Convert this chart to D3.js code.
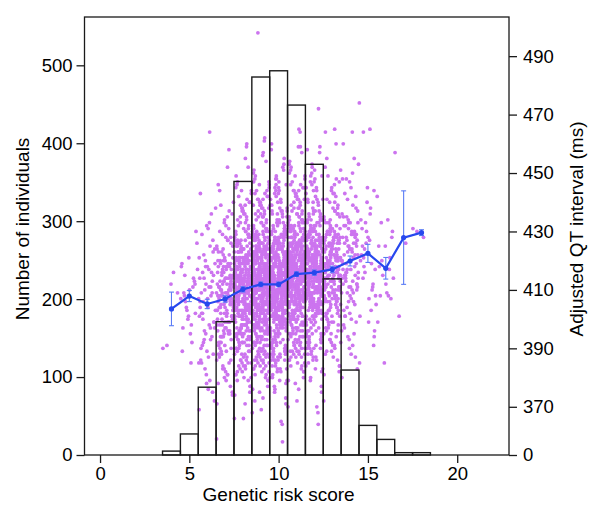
<!DOCTYPE html>
<html>
<head>
<meta charset="utf-8">
<script src="https://cdn.jsdelivr.net/npm/d3@7/dist/d3.min.js"></script>
<style>
  body { margin: 0; background: #fff; }
  svg text { font-family: "Liberation Sans", Arial, Helvetica, sans-serif; }
</style>
</head>
<body>
<svg id="chart" width="600" height="513"></svg>
<script>
// histogram: number of individuals per genetic risk score
var scores = [4, 5, 6, 7, 8, 9, 10, 11, 12, 13, 14, 15, 16, 17, 18];
var counts = [5, 27, 87, 171, 351, 485, 493, 449, 373, 226, 109, 38, 20, 3, 3];

// mean adjusted QT (ms) per score and half-width of its error bar
var qtMeans = [403.5, 407.9, 405.2, 406.9, 410.2, 411.9, 411.9, 415.4, 415.9, 417.0, 419.9, 422.5, 417.4, 427.9, 429.6];
var qtErr = [5.75, 1.9, 1.6, 1.1, 0.9, 0.8, 0.8, 0.8, 0.9, 1.1, 1.7, 3.1, 3.7, 16, 1.0];

// axis ticks
var xTicks = [0, 5, 10, 15, 20];
var countTicks = [0, 100, 200, 300, 400, 500];
var qtTicks = [370, 390, 410, 430, 450, 470, 490];

// individual adjusted QT values (ms) per score
var qt4 = [390, 416, 391, 409, 412];
var qt5 = [407,398,415,402,421,389,411,404,426,395,409,413,400,418,392,406,430,410,397,414,403,417,385,408,412,401,419];
var qt6 = [407,398,416,388,432,404,411,393,424,376, 402,413,395,421,379,406,399,418,386,436,
  410,403,417,391,427,381,414,397,422,372, 404,409,394,420,385,433,400,415,389,443,
  408,396,419,387,429,375,412,401,425,392, 399,407,390,416,383,438,411,402,423,378,
  406,393,414,397,431,385,409,418,369,464];
var qt7 = [409,399,419,390,434,406,414,394,425,379, 404,415,396,424,381,408,401,420,388,437,
  412,405,418,392,428,383,416,399,423,375, 406,411,395,422,386,435,402,417,391,446,
  410,398,421,389,430,377,413,403,427,394, 401,409,392,418,384,440,412,404,426,380,
  408,395,416,400,432,387,411,420,371,452, 405,414,397,423,385,429,403,418,390,410,
  413,400,419,388,436,382,407,396,424,359, 402,410,393,421,378,431,409,401,417,444,
  406,416,398,427,389,405,414,391,422,383, 411,403,420,386,433,396,408,415,374,428,
  404,412,394,425,381,439,407,399,418,458,
  408,403,414,398,419,405,412,396,410,401, 406,411,399,416,404,409,394,413,402,420,
  407,400,415,397,411,405,418,403,409,392, 412,404,408,399,417,406,401,413,410,395];
var qt8 = [412,402,423,391,438,409,417,396,428,380, 407,419,398,427,383,411,404,424,390,441,
  415,408,421,393,432,385,420,401,426,377, 409,414,397,425,388,439,405,420,394,449,
  413,401,424,392,434,379,416,406,430,396, 404,412,395,421,386,444,415,407,429,382,
  411,398,419,403,436,389,414,423,374,455, 408,417,400,426,387,433,406,421,393,413,
  416,403,422,391,440,384,410,399,427,366, 405,413,396,424,381,435,412,404,420,447,
  409,419,401,430,392,408,417,394,425,386, 414,406,423,389,437,399,411,418,377,431,
  407,415,397,428,384,442,410,402,421,460, 412,404,420,395,431,388,416,400,426,375,
  410,418,399,424,385,436,407,422,392,445, 403,411,394,419,382,429,414,405,433,390,
  415,400,425,393,439,380,409,417,428,398, 408,416,396,422,387,446,412,403,419,371,
  413,405,421,390,434,383,418,410,427,452, 406,414,398,426,389,437,404,420,395,443,
  411,402,423,392,430,386,415,408,424,379, 409,417,400,427,384,440,406,413,391,435,
  414,403,420,394,438,381,410,419,426,366, 407,412,397,423,388,432,416,401,429,459,
  410,418,395,425,385,444,412,404,421,393,
  411,406,417,401,422,408,415,399,413,404, 409,414,402,419,407,412,397,416,405,423,
  410,403,418,400,414,408,421,406,412,395, 415,407,411,402,420,409,404,416,413,398,
  408,412,400,417,405,411,396,414,403,422, 410,406,419,401,413,407,418,404,409,399,
  414,408,403,416,411,405,420,402,412,397, 409,413,401,418,406,410,395,415,404,421,
  411,405,417,400,414,408,419,403,412,398, 410,407,415,402,413,406,420,401,409,396];
var qt9 = [414,404,425,393,440,411,419,398,430,382, 409,421,400,429,385,413,406,426,392,443,
  417,410,423,395,434,387,422,403,428,379, 411,416,399,427,390,441,407,422,396,451,
  415,403,426,394,436,381,418,408,432,398, 406,414,397,423,388,446,417,409,431,384,
  413,400,421,405,438,391,416,425,376,457, 410,419,402,428,389,435,408,423,395,415,
  418,405,424,393,442,386,412,401,429,368, 407,415,398,426,383,437,414,406,422,449,
  411,421,403,432,394,410,419,396,427,388, 416,408,425,391,439,401,413,420,379,433,
  409,417,399,430,386,444,412,404,423,462, 414,406,422,397,433,390,418,402,428,377,
  412,420,401,426,387,438,409,424,394,447, 405,413,396,421,384,431,416,407,435,392,
  417,402,427,395,441,382,411,419,430,400, 410,418,398,424,389,448,414,405,421,373,
  415,407,423,392,436,385,420,412,429,454, 408,416,400,428,391,439,406,422,397,445,
  413,404,425,394,432,388,417,410,426,381, 411,419,402,429,386,442,408,415,393,437,
  416,405,422,396,440,383,412,421,428,369, 409,414,399,425,390,434,418,403,431,461,
  412,420,397,427,387,446,414,406,423,395, 407,417,401,424,385,435,410,419,392,450,
  414,403,426,393,443,380,415,408,430,399, 410,421,398,428,389,438,412,405,424,375,
  418,406,423,395,433,386,409,416,427,456, 405,413,400,422,391,441,417,402,429,384,
  412,419,396,430,388,436,407,424,394,447, 416,404,425,397,439,383,413,410,421,372,
  409,417,402,426,387,444,411,420,398,498,
  413,408,419,403,424,410,417,401,415,406, 411,416,404,421,409,414,399,418,407,425,
  412,405,420,402,416,410,423,408,414,397, 417,409,413,404,422,411,406,418,415,400,
  410,414,402,419,407,413,398,416,405,424, 412,408,421,403,415,409,420,406,411,401,
  416,410,405,418,413,407,422,404,414,399, 411,415,403,420,408,412,397,417,406,423,
  413,407,419,402,416,410,421,405,414,400, 412,409,417,404,415,408,422,403,411,398,
  414,410,406,419,412,405,424,401,416,407, 409,413,400,418,411,415,402,420,408,414,
  413,406,421,404,417,410,399,415,412,405, 410,416,403,422,409,413,407,419,402,411,
  415,408,418,405,414,411,423,400,412,406];
var qt10 = [405,419,396,431,412,388,424,401,446,379, 416,408,427,391,437,410,399,421,384,452,
  403,414,392,425,418,440,386,409,430,371, 420,407,433,397,411,382,426,402,443,415,
  409,422,398,428,389,413,436,404,419,376, 417,401,425,393,448,406,414,386,431,410,
  404,418,395,430,412,387,423,400,441,365, 413,406,428,392,435,409,419,383,426,455,
  408,421,399,427,390,444,411,403,418,380, 415,402,432,396,424,410,385,420,438,407,
  411,424,394,429,405,391,417,436,399,449, 406,414,388,422,433,408,401,427,378,419,
  418,403,426,395,440,412,389,416,430,358, 402,417,397,431,409,383,423,405,445,414,
  412,408,429,391,437,416,400,421,386,460, 409,420,396,426,392,413,434,404,418,375,
  416,405,424,398,442,410,387,419,428,401, 403,413,393,430,411,381,425,407,439,417,
  414,409,427,390,436,404,420,398,424,453, 407,418,399,428,388,447,412,402,421,379,
  419,404,431,394,415,410,384,423,433,406, 410,422,397,425,401,389,416,437,400,446,
  405,412,390,421,432,408,398,428,373,418, 417,402,426,396,441,413,386,414,429,364,
  401,416,395,432,410,382,424,406,443,411, 413,407,428,392,435,417,399,420,387,458,
  408,419,398,426,393,412,433,403,419,377, 415,404,423,397,444,409,388,418,427,400,
  404,414,394,429,410,380,426,408,438,415, 412,410,425,391,437,403,421,399,423,451,
  406,417,400,427,389,445,411,401,420,383, 418,405,430,395,416,409,386,422,434,407,
  409,421,396,424,402,390,415,439,398,448,
  411,415,405,420,409,413,400,418,407,424, 414,410,403,419,412,406,422,401,416,408,
  409,413,404,421,411,407,417,399,415,410, 412,416,406,423,408,414,402,418,410,405,
  415,409,420,403,413,411,398,417,406,422, 410,414,401,419,408,412,405,421,411,404,
  416,407,413,400,418,410,423,406,414,409, 411,415,403,420,407,412,397,417,409,405,
  413,408,419,402,415,410,424,404,412,406, 409,414,400,418,411,407,421,403,416,410,
  412,406,417,405,414,409,422,401,413,408, 415,411,404,420,410,413,399,418,407,412,
  408,416,402,423,411,406,419,404,414,409, 413,410,405,417,412,408,421,400,415,411,
  410,414,403,419,409,413,406,422,408,412, 416,407,418,404,411,410,400,420,413,406];
var qt11 = [417,407,428,396,443,414,422,401,433,385, 412,424,403,432,388,416,409,429,395,446,
  420,413,426,398,437,390,425,406,431,382, 414,419,402,430,393,444,410,425,399,454,
  418,406,429,397,439,384,421,411,435,401, 409,417,400,426,391,449,420,412,434,387,
  416,403,424,408,441,394,419,428,379,465, 413,422,405,431,392,438,411,426,398,418,
  421,408,427,396,445,389,415,404,432,370, 410,418,401,429,386,440,417,409,425,452,
  414,424,406,435,397,413,422,399,430,391, 419,411,428,394,442,404,416,423,382,436,
  412,420,402,433,389,447,415,407,426,459, 417,409,425,400,436,393,421,405,431,380,
  415,423,404,429,390,441,412,427,397,450, 408,416,399,424,387,434,419,410,438,395,
  420,405,430,398,444,385,414,422,433,403, 413,421,401,427,392,451,417,408,424,376,
  418,410,426,395,439,388,423,415,432,457, 411,419,403,431,394,442,409,425,400,448,
  416,407,428,397,435,391,420,413,429,384, 414,422,405,432,389,445,411,418,396,440,
  419,408,425,399,443,386,415,424,431,372, 412,417,402,428,393,437,421,406,434,464,
  415,423,400,430,390,449,417,409,426,398, 410,420,404,427,388,438,413,422,395,453,
  417,406,429,396,446,383,418,411,433,402, 413,424,401,431,392,441,415,408,427,378,
  421,409,426,398,436,389,412,419,430,459, 408,416,403,425,394,444,420,405,432,387,
  416,411,422,406,427,413,420,404,418,409, 414,419,407,424,412,417,402,421,410,428,
  415,408,423,405,419,413,426,411,417,400, 420,412,416,407,425,414,409,421,418,403,
  413,417,405,422,410,416,401,419,408,427, 415,411,424,406,418,412,423,409,414,404,
  419,413,408,421,416,410,425,407,417,402, 414,418,406,423,411,415,400,420,409,426,
  416,410,422,405,419,413,424,408,417,403, 415,412,420,407,418,411,425,406,414,401,
  417,413,409,422,415,408,427,404,419,410, 412,416,403,421,414,418,405,423,411,417,
  416,409,424,407,420,413,402,418,415,408, 413,419,406,425,412,416,410,422,405,414,
  418,411,421,408,417,414,426,403,415,409];
var qt12 = [409,423,400,434,416,392,427,405,449,383, 420,412,431,395,441,414,403,425,388,472,
  407,418,396,429,422,444,390,413,434,375, 424,411,437,401,415,386,430,406,447,419,
  413,426,402,432,393,417,440,408,423,380, 421,405,429,397,452,410,418,390,435,414,
  408,422,399,434,416,391,427,404,445,370, 417,410,432,396,439,413,423,387,430,459,
  412,425,403,431,394,448,415,407,422,384, 419,406,436,400,428,414,389,424,442,411,
  415,428,398,433,409,395,421,440,403,453, 410,418,392,426,437,412,405,431,382,423,
  422,407,430,399,444,416,393,420,434,364, 406,421,401,435,413,387,427,409,449,418,
  416,412,433,395,441,420,404,425,390,458, 413,424,400,430,396,417,438,408,422,379,
  420,409,428,402,446,414,391,423,432,405, 407,417,397,434,415,385,429,411,443,421,
  418,413,431,394,440,408,424,402,428,457, 411,422,403,432,392,451,416,406,425,383,
  423,408,435,398,419,414,388,427,437,410, 414,426,401,429,405,393,420,441,404,450,
  409,416,394,425,436,412,402,432,377,422, 421,406,430,400,445,417,390,418,433,368,
  405,420,399,436,414,386,428,410,447,415,
  417,412,423,407,428,414,421,405,419,410, 415,420,408,425,413,418,403,422,411,429,
  416,409,424,406,420,414,427,412,418,401, 421,413,417,408,426,415,410,422,419,404,
  414,418,406,423,411,417,402,420,409,428, 416,412,425,407,419,413,424,410,415,405,
  420,414,409,422,417,411,426,408,418,403, 415,419,407,424,412,416,401,421,410,427,
  417,411,423,406,420,414,425,409,418,404, 416,413,421,408,419,412,426,407,415,402,
  418,414,410,423,416,409,428,405,420,411];
var qt13 = [419,409,430,398,445,416,424,403,435,387, 414,426,405,434,390,418,411,431,397,448,
  422,415,428,400,439,392,427,408,433,384, 416,421,404,432,395,446,412,427,401,464,
  420,408,431,399,441,386,423,413,437,403, 411,419,402,428,393,451,422,414,436,389,
  418,405,426,410,443,396,421,430,381,465, 415,424,407,433,394,440,413,428,400,420,
  423,410,429,398,447,391,417,406,434,372, 412,420,403,431,388,442,419,411,427,455,
  416,426,408,437,399,415,424,401,432,393, 421,413,430,396,444,406,418,425,384,438,
  414,422,404,435,391,449,417,409,428,460, 419,411,427,402,438,395,423,407,433,382,
  417,425,406,431,392,443,414,429,399,452, 410,418,401,426,389,436,421,412,440,397,
  418,413,424,408,429,415,422,406,420,411, 416,421,409,426,414,419,404,423,412,430,
  417,410,425,407,421,415,428,413,419,402, 422,414,418,409,427,416,411,423,420,405,
  415,419,407,424,412,418,403,421,410,429, 417,413,426,408,420,414,425,411,416,406];
var qt14 = [420,410,432,399,447,417,426,404,437,388, 415,428,406,436,391,419,412,433,398,455,
  423,416,430,401,442,393,428,409,435,383, 417,422,405,434,396,464,413,429,402,460,
  421,409,433,400,443,387,425,414,439,448, 412,420,403,430,394,453,424,415,438,390,
  419,406,427,411,445,397,422,431,380,450, 416,425,408,435,395,441,414,429,401, 426,411,448,
  421,416,427,411,432,418,425,409,423,414, 419,424,412,429,417,422,407,426,415,433,
  420,413,428,410,424];
var qt15 = [474,465,464,444,445,434,419,416,408,407, 425,412,430,401,438,418,396,428,422,410,
  433,405,427,414,391,440,420,403,424,417, 399,431,411,426,385,436,421,394];
var qt16 = [442,434,433,428,425,425,417,415,414,409,408,407,385,399,408,420,430,412,418,421];
var qt17 = [457, 426, 401];
var qt18 = [431, 428, 430];
var qtPoints = [qt4, qt5, qt6, qt7, qt8, qt9, qt10, qt11, qt12, qt13, qt14, qt15, qt16, qt17, qt18];

var margin = {top: 17, right: 91, bottom: 58, left: 84.5},
    width = 600 - margin.left - margin.right,
    height = 513 - margin.top - margin.bottom;

var svg = d3.select("#chart")
  .append("g")
    .attr("transform", "translate(" + margin.left + "," + margin.top + ")");

var x = d3.scaleLinear().domain([-0.87, 22.9]).range([0, width]);
var yCount = d3.scaleLinear().domain([0, 562]).range([height, 0]);
var yQT = d3.scaleLinear().domain([353.5, 503.4]).range([height, 0]);

// scatter, spread across the width of each score's bin
var pts = [];
scores.forEach(function(s, k) {
  qtPoints[k].forEach(function(v, i) {
    var off = (((i * 0.6180339887) % 1) - 0.5) * 0.96;
    pts.push({x: s + off, qt: v});
  });
});

svg.append("g").selectAll("circle")
    .data(pts)
  .enter().append("circle")
    .attr("cx", function(d) { return x(d.x); })
    .attr("cy", function(d) { return yQT(d.qt); })
    .attr("r", 1.9)
    .attr("fill", "#cc74ef");

// histogram bars
svg.append("g").selectAll("rect")
    .data(scores)
  .enter().append("rect")
    .attr("x", function(d) { return x(d - 0.5); })
    .attr("width", function(d) { return x(d + 0.5) - x(d - 0.5); })
    .attr("y", function(d, i) { return yCount(counts[i]); })
    .attr("height", function(d, i) { return height - yCount(counts[i]); })
    .attr("fill", "none")
    .attr("stroke", "#1a1a1a")
    .attr("stroke-width", 1.4);

// error bars
var eb = svg.append("g").attr("stroke", "#5a7cf6").attr("stroke-width", 1.1);
scores.forEach(function(s, i) {
  var lo = yQT(qtMeans[i] - qtErr[i]), hi = yQT(qtMeans[i] + qtErr[i]), cx = x(s);
  eb.append("line").attr("x1", cx).attr("x2", cx).attr("y1", lo).attr("y2", hi);
  eb.append("line").attr("x1", cx - 2.5).attr("x2", cx + 2.5).attr("y1", lo).attr("y2", lo);
  eb.append("line").attr("x1", cx - 2.5).attr("x2", cx + 2.5).attr("y1", hi).attr("y2", hi);
});

var meanLine = d3.line()
    .x(function(d, i) { return x(scores[i]); })
    .y(function(d) { return yQT(d); });

svg.append("path")
    .datum(qtMeans)
    .attr("d", meanLine)
    .attr("fill", "none")
    .attr("stroke", "#2748ee")
    .attr("stroke-width", 2.2);

svg.append("g").selectAll("circle")
    .data(qtMeans)
  .enter().append("circle")
    .attr("cx", function(d, i) { return x(scores[i]); })
    .attr("cy", function(d) { return yQT(d); })
    .attr("r", 2.6)
    .attr("fill", "#2748ee");

// frame
svg.append("rect")
    .attr("width", width).attr("height", height)
    .attr("fill", "none").attr("stroke", "#1a1a1a").attr("stroke-width", 1.3);

function styleAxis(g) {
  g.select(".domain").remove();
  g.selectAll(".tick line").attr("stroke", "#1a1a1a").attr("stroke-width", 1.3);
  g.selectAll(".tick text").attr("fill", "#000").style("font-size", "18.5px")
    .style("font-family", "'Liberation Sans', Arial, Helvetica, sans-serif");
}

svg.append("g")
    .attr("transform", "translate(0," + height + ")")
    .call(d3.axisBottom(x).tickValues(xTicks).tickSize(8).tickPadding(4))
    .call(styleAxis);

svg.append("g")
    .call(d3.axisLeft(yCount).tickValues(countTicks).tickSize(8).tickPadding(4))
    .call(styleAxis);

var qtLow = yQT.domain()[0];
svg.append("g")
    .attr("transform", "translate(" + width + ",0)")
    .call(d3.axisRight(yQT).tickValues([qtLow].concat(qtTicks)).tickSize(8).tickPadding(6)
      .tickFormat(function(d) { return d === qtLow ? "0" : d; }))
    .call(styleAxis);

// axis titles
svg.append("text")
    .attr("x", x(10)).attr("y", 484)
    .attr("text-anchor", "middle")
    .style("font-size", "19px")
    .text("Genetic risk score");

svg.append("text")
    .attr("transform", "translate(" + (29 - margin.left) + "," + (229 - margin.top) + ") rotate(-90)")
    .attr("text-anchor", "middle")
    .style("font-size", "19px")
    .text("Number of individuals");

svg.append("text")
    .attr("transform", "translate(" + (583 - margin.left) + "," + (229 - margin.top) + ") rotate(-90)")
    .attr("text-anchor", "middle")
    .style("font-size", "19px")
    .text("Adjusted QT interval (ms)");
</script>
</body>
</html>
